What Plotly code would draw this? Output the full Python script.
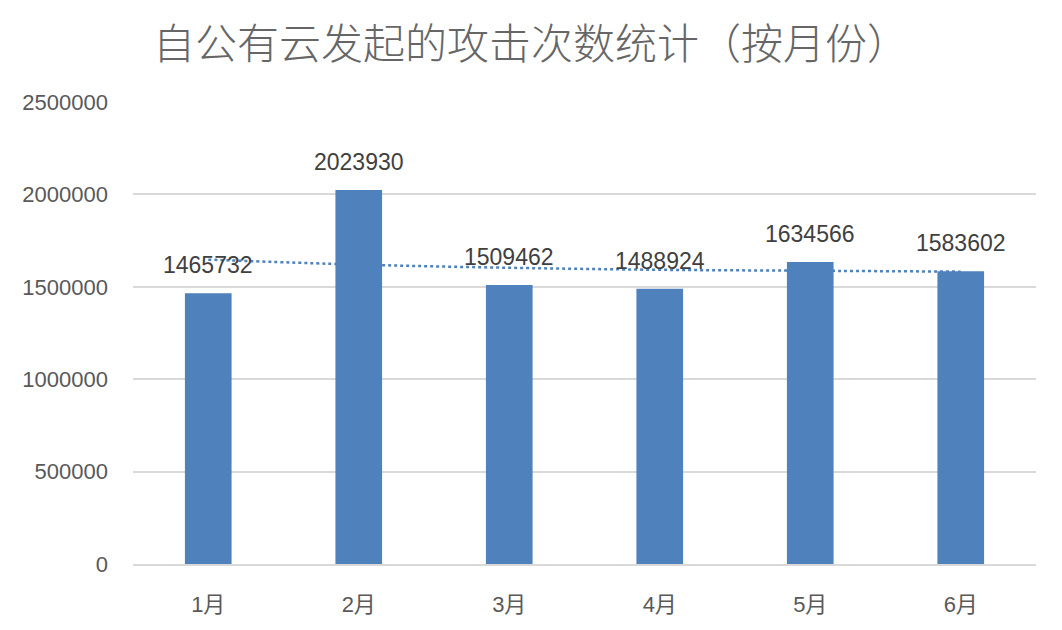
import plotly.graph_objects as go

months = ["1月", "2月", "3月", "4月", "5月", "6月"]
attacks = [1465732, 2023930, 1509462, 1488924, 1634566, 1583602]
# dotted trend line, values at each month
trend = [1647000, 1620000, 1603000, 1592000, 1587000, 1582000]
y_ticks = [0, 500000, 1000000, 1500000, 2000000, 2500000]
title_text = "自公有云发起的攻击次数统计（按月份）"

BLUE = "#4F81BD"
GRAY_TXT = "#595959"
GRID = "#D9D9D9"
FONT = "Liberation Sans, Noto Sans CJK SC, sans-serif"

fig = go.Figure()

# trend line on base axes (drawn underneath the bars)
fig.add_trace(go.Scatter(
    x=months, y=trend, mode="lines", xaxis="x", yaxis="y",
    line=dict(color=BLUE, width=2.5, dash="dot", shape="spline"),
    hoverinfo="skip", showlegend=False,
))

# bars on overlaying axes so they sit above the trend line
fig.add_trace(go.Bar(
    x=months, y=attacks, xaxis="x2", yaxis="y2",
    marker=dict(color=BLUE, line=dict(width=0)),
    width=0.31, showlegend=False,
))

for m, v in zip(months, attacks):
    fig.add_annotation(
        x=m, y=v, xref="x2", yref="y2", text=str(v), showarrow=False,
        yanchor="bottom", yshift=13,
        font=dict(family=FONT, size=23, color="#404040"),
    )

yr = [0, 2500000]
fig.update_layout(
    width=1062, height=630,
    margin=dict(l=133, r=26, t=102, b=66),
    paper_bgcolor="white", plot_bgcolor="white",
    title=dict(text=title_text, x=0.5, xanchor="center", y=0.93, yanchor="middle",
               font=dict(family="Noto Sans CJK SC, sans-serif", size=42,
                         color="#666666", weight=300)),
    xaxis=dict(type="category", categoryorder="array", categoryarray=months,
               range=[-0.5, 5.5], showgrid=False, zeroline=False,
               showline=True, linecolor=GRID, linewidth=2, ticks="",
               ticklabelstandoff=20,
               tickfont=dict(family=FONT, size=22, color=GRAY_TXT)),
    yaxis=dict(range=yr, tickvals=y_ticks, ticktext=[str(t) for t in y_ticks],
               showgrid=True, gridcolor=GRID, gridwidth=2,
               zeroline=False, showline=False, ticks="",
               ticklabelstandoff=24,
               tickfont=dict(family=FONT, size=22, color=GRAY_TXT)),
    xaxis2=dict(type="category", categoryorder="array", categoryarray=months,
                range=[-0.5, 5.5], overlaying="x", visible=False),
    yaxis2=dict(range=yr, overlaying="y", visible=False),
    bargap=0.69,
)

fig.write_html("out.html", config={"displayModeBar": False},
               post_script="document.body.style.margin='0';")
